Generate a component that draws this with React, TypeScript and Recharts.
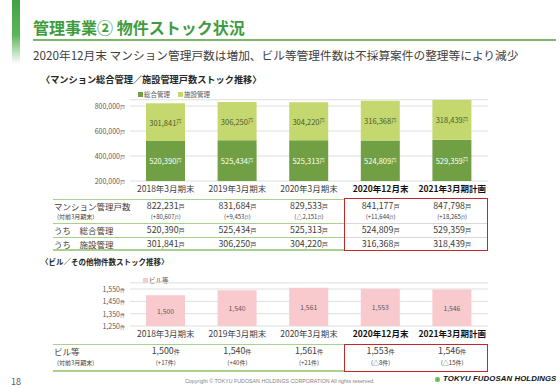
import React from 'react';
import { BarChart, Bar, XAxis, YAxis, CartesianGrid, LabelList } from 'recharts';

const categories = ['2018年3月期末', '2019年3月期末', '2020年3月期末', '2020年12月末', '2021年3月期計画'];
const highlighted = [false, false, false, true, true];
const sogo = [520390, 525434, 525313, 524809, 529359];
const shisetsu = [301841, 306250, 304220, 316368, 318439];
const mansionTotal = [822231, 831684, 829533, 841177, 847798];
const mansionDiff = ['(+80,607', '(+9,453', '(△2,151', '(+11,644', '(+18,265'];
const building = [1500, 1540, 1561, 1553, 1546];
const buildingDiff = ['(+17件)', '(+40件)', '(+21件)', '(△8件)', '(△15件)'];
const yTicks1 = [200000, 400000, 600000, 800000];
const yTicks2 = [1250, 1350, 1450, 1550];
const Y1_MIN = 200000;

const data1 = categories.map((cat, i) => ({ cat, i, sogo: sogo[i], shisetsu: shisetsu[i], total: mansionTotal[i] }));
const data2 = categories.map((cat, i) => ({ cat, i, value: building[i] }));

const FONT = '"Noto Sans CJK JP", "Noto Sans", sans-serif';
const TXT = '#404040';
const DARK_GREEN = '#70A043';
const LIGHT_GREEN = '#C4D86F';
const PINK = '#F8C9CD';
const RED = '#C0282D';
const TABLE_GREEN = '#A9D18E';

const fmt = (v: number) => v.toLocaleString('en-US');

// plot geometry
const PLOT_L = 130;
const PLOT_R = 488;
const colX = (i: number) => PLOT_L + ((i + 0.5) * (PLOT_R - PLOT_L)) / categories.length;

const T = ({ x, y, size, children, color = TXT, weight = 400, center = false, style = {} }: any) => (
  <div
    style={{
      position: 'absolute',
      left: x,
      top: y - size / 2,
      fontSize: size,
      lineHeight: `${size}px`,
      height: size,
      color,
      fontWeight: weight,
      whiteSpace: 'nowrap',
      transform: center ? 'translateX(-50%)' : undefined,
      ...style,
    }}
  >
    {children}
  </div>
);

const HLine = ({ x1, x2, y, color, h = 1 }: any) => (
  <div style={{ position: 'absolute', left: x1, top: y - h / 2, width: x2 - x1, height: h, background: color }} />
);

const YTick = ({ x, y, payload, unit }: any) => (
  <text x={x} y={y} textAnchor="end" dominantBaseline="central" fill="#595959" fontSize={7} fontFamily={FONT}>
    {fmt(payload.value)}
    <tspan fontSize={5}>{unit}</tspan>
  </text>
);

const XTick = ({ x, y, payload, index }: any) => {
  const hl = highlighted[index];
  return (
    <text
      x={x}
      y={y + 7}
      textAnchor="middle"
      dominantBaseline="central"
      fill={hl ? '#111' : TXT}
      fontWeight={hl ? 700 : 400}
      fontSize={8.5}
      fontFamily={FONT}
    >
      {payload.value}
    </text>
  );
};

const makeLabel = (fill: string, unit: string, size: number) => (props: any) => {
  const x = Number(props.x);
  const y = Number(props.y);
  const w = Number(props.width);
  const h = Number(props.height);
  return (
    <text
      x={x + w / 2}
      y={y + h / 2}
      textAnchor="middle"
      dominantBaseline="central"
      fill={fill}
      fontSize={size}
      fontFamily={FONT}
    >
      {fmt(Number(props.value))}
      {unit ? <tspan fontSize={size * 0.72}>{unit}</tspan> : null}
    </text>
  );
};

const Legend1 = () => (
  <>
    <div style={{ position: 'absolute', left: 138, top: 92, width: 5, height: 5, background: DARK_GREEN }} />
    <T x={144} y={94.5} size={6.5} color="#595959">総合管理</T>
    <div style={{ position: 'absolute', left: 178, top: 92, width: 5, height: 5, background: LIGHT_GREEN }} />
    <T x={184} y={94.5} size={6.5} color="#595959">施設管理</T>
  </>
);

const Legend2 = () => (
  <>
    <div style={{ position: 'absolute', left: 143, top: 277.5, width: 5, height: 5, background: PINK }} />
    <T x={149} y={280} size={6.5} color="#595959">ビル等</T>
  </>
);

const Unit = ({ children }: any) => <span style={{ fontSize: '0.7em' }}>{children}</span>;

export default function App() {
  return (
    <div
      style={{
        position: 'absolute',
        left: 0,
        top: 0,
        width: 560,
        height: 388,
        background: '#fff',
        overflow: 'hidden',
        fontFamily: FONT,
      }}
    >
      {/* header */}
      <div
        style={{
          position: 'absolute',
          left: 12,
          top: 0,
          width: 8,
          height: 64,
          background: 'linear-gradient(to bottom, #3FA33F 0%, #5DB55D 55%, rgba(255,255,255,0) 100%)',
        }}
      />
      <T x={33} y={27} size={16} color="#3E9C3E" weight={700}>
        管理事業② 物件ストック状況
      </T>
      <HLine x1={33} x2={556} y={40} color="#7DB56A" h={1.5} />
      <T x={33} y={55} size={11.7} color={TXT}>
        2020年12月末 マンション管理戸数は増加、ビル等管理件数は不採算案件の整理等により減少
      </T>
      <T x={41} y={80} size={9.2} color="#262626" weight={700}>
        〈マンション総合管理／施設管理戸数ストック推移〉
      </T>

      <Legend1 />

      <div style={{ position: 'absolute', left: 0, top: 90 }}>
        <BarChart
          width={500}
          height={120}
          data={data1}
          margin={{ top: 9.75, right: 12, left: 0, bottom: 0 }}
          barSize={39}
          barGap={-39}
        >
          <CartesianGrid vertical={false} stroke="#DEDEDE" />
          <XAxis
            dataKey="cat"
            axisLine={false}
            tickLine={false}
            tickSize={0}
            tickMargin={0}
            height={29}
            interval={0}
            tick={<XTick />}
          />
          <YAxis
            type="number"
            domain={[Y1_MIN, 850000]}
            ticks={yTicks1}
            axisLine={false}
            tickLine={false}
            tickSize={0}
            tickMargin={5}
            width={130}
            interval={0}
            tick={<YTick unit="戸" />}
          />
          <Bar dataKey={(d: any) => [Y1_MIN, d.sogo]} fill={DARK_GREEN} isAnimationActive={false}>
            <LabelList dataKey="sogo" content={makeLabel('#ffffff', '戸', 7.5)} />
          </Bar>
          <Bar dataKey={(d: any) => [d.sogo, d.total]} fill={LIGHT_GREEN} isAnimationActive={false}>
            <LabelList dataKey="shisetsu" content={makeLabel('#4F5A2C', '戸', 7.5)} />
          </Bar>
        </BarChart>
      </div>

      {/* table 1 */}
      <HLine x1={53} x2={345} y={199.5} color={TABLE_GREEN} h={1.5} />
      <HLine x1={53} x2={345} y={223.5} color={TABLE_GREEN} />
      <HLine x1={53} x2={345} y={237} color={TABLE_GREEN} />
      <HLine x1={53} x2={345} y={250} color={TABLE_GREEN} h={1.5} />
      <HLine x1={345} x2={488} y={223.5} color="#D9D9D9" />
      <HLine x1={345} x2={488} y={237} color="#D9D9D9" />
      <T x={54} y={206.5} size={8.5}>マンション管理戸数</T>
      <T x={57} y={216.5} size={6}>(対前3月期末)</T>
      <T x={54} y={230.5} size={8.5}>うち　総合管理</T>
      <T x={54} y={244} size={8.5}>うち　施設管理</T>
      {categories.map((c, i) => (
        <React.Fragment key={c}>
          <T x={colX(i)} y={206.5} size={8.8} center>
            {fmt(mansionTotal[i])}
            <Unit>戸</Unit>
          </T>
          <T x={colX(i)} y={217} size={6} center>
            {mansionDiff[i]}
            <Unit>戸</Unit>)
          </T>
          <T x={colX(i)} y={230.5} size={8.8} center>
            {fmt(sogo[i])}
            <Unit>戸</Unit>
          </T>
          <T x={colX(i)} y={244} size={8.8} center>
            {fmt(shisetsu[i])}
            <Unit>戸</Unit>
          </T>
        </React.Fragment>
      ))}
      <div
        style={{
          position: 'absolute',
          left: 344,
          top: 198,
          width: 144,
          height: 53,
          border: `1.5px solid ${RED}`,
          boxSizing: 'border-box',
        }}
      />

      <T x={41} y={262} size={7.5} color="#262626" weight={700}>
        〈ビル／その他物件数ストック推移〉
      </T>

      <Legend2 />

      <div style={{ position: 'absolute', left: 0, top: 275 }}>
        <BarChart
          width={500}
          height={76}
          data={data2}
          margin={{ top: 7.83, right: 12, left: 0, bottom: 0 }}
          barSize={39}
        >
          <CartesianGrid vertical={false} stroke="#DEDEDE" />
          <XAxis
            dataKey="cat"
            axisLine={false}
            tickLine={false}
            tickSize={0}
            tickMargin={0}
            height={25}
            interval={0}
            tick={<XTick />}
          />
          <YAxis
            type="number"
            domain={[1250, 1600]}
            ticks={yTicks2}
            axisLine={false}
            tickLine={false}
            tickSize={0}
            tickMargin={5}
            width={130}
            interval={0}
            tick={<YTick unit="件" />}
          />
          <Bar dataKey="value" fill={PINK} isAnimationActive={false}>
            <LabelList dataKey="value" content={makeLabel('#595959', '', 6.8)} />
          </Bar>
        </BarChart>
      </div>

      {/* table 2 */}
      <HLine x1={53} x2={345} y={344.5} color={TABLE_GREEN} h={1.5} />
      <HLine x1={53} x2={345} y={371} color={TABLE_GREEN} h={1.5} />
      <T x={54} y={351.5} size={8.5}>ビル等</T>
      <T x={57} y={362.5} size={6}>(対前3月期末)</T>
      {categories.map((c, i) => (
        <React.Fragment key={c}>
          <T x={colX(i)} y={351.5} size={8.8} center>
            {fmt(building[i])}
            <Unit>件</Unit>
          </T>
          <T x={colX(i)} y={362.8} size={6} center>
            {buildingDiff[i]}
          </T>
        </React.Fragment>
      ))}
      <div
        style={{
          position: 'absolute',
          left: 344,
          top: 344,
          width: 144,
          height: 28,
          border: `1.5px solid ${RED}`,
          boxSizing: 'border-box',
        }}
      />

      {/* footer */}
      <T x={11} y={381} size={9} color="#595959">18</T>
      <T
        x={185}
        y={382}
        size={5.3}
        color="#7F7F7F"
        style={{ fontFamily: '"Liberation Sans", Arial, sans-serif' }}
      >
        Copyright © TOKYU FUDOSAN HOLDINGS CORPORATION All rights reserved.
      </T>
      <div
        style={{
          position: 'absolute',
          left: 435,
          top: 376.5,
          width: 5,
          height: 5,
          borderRadius: '50%',
          background: '#4CAF50',
          boxShadow: 'inset 0 0 0 1.2px #8FD06F',
        }}
      />
      <T
        x={443}
        y={379}
        size={7.8}
        color="#111"
        weight={700}
        style={{ fontFamily: '"Liberation Sans", Arial, sans-serif', fontStyle: 'italic', letterSpacing: 0.1 }}
      >
        TOKYU FUDOSAN HOLDINGS
      </T>
    </div>
  );
}
